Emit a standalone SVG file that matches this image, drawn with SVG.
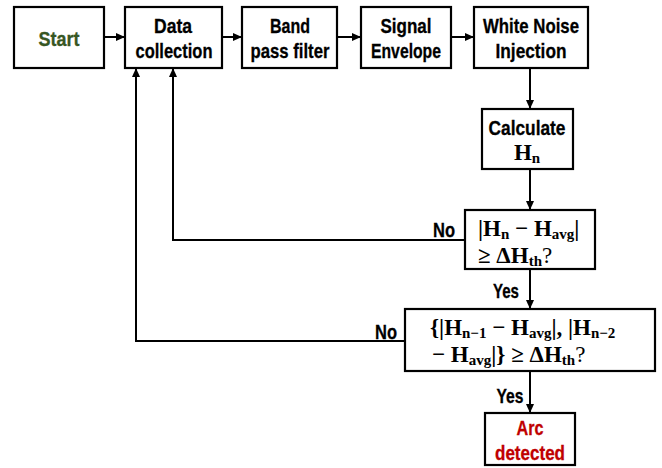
<svg xmlns="http://www.w3.org/2000/svg" width="662" height="468" viewBox="0 0 662 468">
<style>
.box{fill:#fff;stroke:#000;stroke-width:2.2}
.t{font-family:"Liberation Sans",Arial,sans-serif;font-weight:bold;font-size:20.5px;text-anchor:middle;fill:#000;stroke:#000;stroke-width:0.3}
.m{font-family:"Liberation Serif","DejaVu Serif",serif;font-weight:bold;font-size:23px;fill:#000}
.s{font-size:15px}
.c{fill:none;stroke:#000;stroke-width:2}
</style>
<defs>
<marker id="ah" markerUnits="userSpaceOnUse" markerWidth="10" markerHeight="8" refX="9" refY="4" orient="auto">
<path d="M0,0 L9,4 L0,8 Z" fill="#000"/>
</marker>
</defs>
<g id="connectors">
<line class="c" x1="104" y1="37" x2="125" y2="37" marker-end="url(#ah)"/>
<line class="c" x1="222" y1="37" x2="242" y2="37" marker-end="url(#ah)"/>
<line class="c" x1="337" y1="37" x2="361" y2="37" marker-end="url(#ah)"/>
<line class="c" x1="451" y1="37" x2="474" y2="37" marker-end="url(#ah)"/>
<line class="c" x1="530" y1="68" x2="530" y2="109" marker-end="url(#ah)"/>
<line class="c" x1="530" y1="169" x2="530" y2="210" marker-end="url(#ah)"/>
<polyline class="c" points="465,240 173,240 173,68" marker-end="url(#ah)"/>
<line class="c" x1="530" y1="269" x2="530" y2="309" marker-end="url(#ah)"/>
<polyline class="c" points="405,341 136,341 136,68" marker-end="url(#ah)"/>
<line class="c" x1="530" y1="371" x2="530" y2="413" marker-end="url(#ah)"/>
<text class="t" x="444" y="237" textLength="22" lengthAdjust="spacingAndGlyphs">No</text>
<text class="t" x="386" y="339" textLength="22" lengthAdjust="spacingAndGlyphs">No</text>
<text class="t" x="506" y="298" textLength="26" lengthAdjust="spacingAndGlyphs">Yes</text>
<text class="t" x="510" y="403" textLength="27" lengthAdjust="spacingAndGlyphs">Yes</text>
</g>
<g id="start">
<rect class="box" x="14" y="7" width="90" height="61"/>
<text class="t" x="59" y="46" textLength="41" lengthAdjust="spacingAndGlyphs" style="fill:#375623;stroke:#375623">Start</text>
</g>
<g id="data">
<rect class="box" x="125" y="7" width="97" height="61"/>
<text class="t" x="173" y="33" textLength="38" lengthAdjust="spacingAndGlyphs">Data</text>
<text class="t" x="174" y="58" textLength="77" lengthAdjust="spacingAndGlyphs">collection</text>
</g>
<g id="band">
<rect class="box" x="242" y="7" width="95" height="61"/>
<text class="t" x="290" y="33" textLength="40" lengthAdjust="spacingAndGlyphs">Band</text>
<text class="t" x="290" y="58" textLength="79" lengthAdjust="spacingAndGlyphs">pass filter</text>
</g>
<g id="signal">
<rect class="box" x="361" y="7" width="90" height="61"/>
<text class="t" x="406" y="33" textLength="51" lengthAdjust="spacingAndGlyphs">Signal</text>
<text class="t" x="406" y="58" textLength="70" lengthAdjust="spacingAndGlyphs">Envelope</text>
</g>
<g id="noise">
<rect class="box" x="474" y="7" width="114" height="61"/>
<text class="t" x="531" y="33" textLength="96" lengthAdjust="spacingAndGlyphs">White Noise</text>
<text class="t" x="531" y="58" textLength="71" lengthAdjust="spacingAndGlyphs">Injection</text>
</g>
<g id="calc">
<rect class="box" x="482" y="109" width="91" height="60"/>
<text class="t" x="527" y="135" textLength="77" lengthAdjust="spacingAndGlyphs">Calculate</text>
<text class="m" x="527" y="160" text-anchor="middle">H<tspan class="s" dy="3">n</tspan></text>
</g>
<g id="decision1">
<rect class="box" x="465" y="210" width="130" height="59"/>
<text class="m" x="478" y="236">|H<tspan class="s" dy="3">n</tspan><tspan dy="-3"> − H</tspan><tspan class="s" dy="3">avg</tspan><tspan dy="-3">|</tspan><tspan x="478" dy="27">≥ ΔH</tspan><tspan class="s" dy="3">th</tspan><tspan dy="-3" font-weight="normal">?</tspan></text>
</g>
<g id="decision2">
<rect class="box" x="405" y="309" width="250" height="62"/>
<text class="m" x="430" y="335">{|H<tspan class="s" dy="3">n−1</tspan><tspan dy="-3"> − H</tspan><tspan class="s" dy="3">avg</tspan><tspan dy="-3">|, |H</tspan><tspan class="s" dy="3">n−2</tspan><tspan x="432" dy="24">− H</tspan><tspan class="s" dy="3">avg</tspan><tspan dy="-3">|} ≥ ΔH</tspan><tspan class="s" dy="3">th</tspan><tspan dy="-3" font-weight="normal">?</tspan></text>
</g>
<g id="arc">
<rect class="box" x="485" y="413" width="90" height="52"/>
<text class="t" x="530" y="435" textLength="27" lengthAdjust="spacingAndGlyphs" style="fill:#C00000;stroke:#C00000">Arc</text>
<text class="t" x="530" y="460" textLength="70" lengthAdjust="spacingAndGlyphs" style="fill:#C00000;stroke:#C00000">detected</text>
</g>
</svg>
